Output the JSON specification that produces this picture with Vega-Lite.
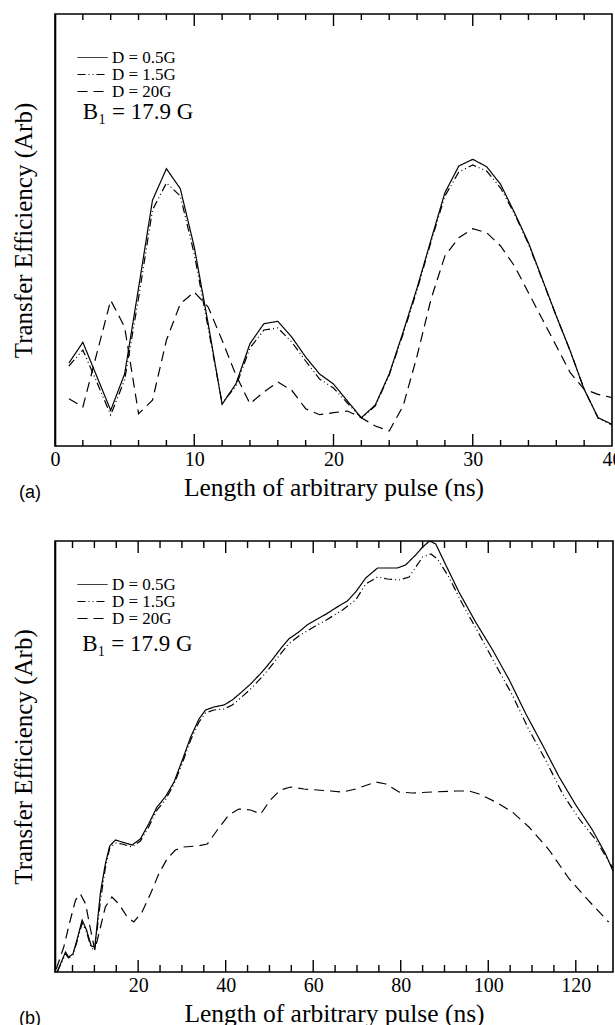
{
  "$schema": "https://vega.github.io/schema/vega-lite/v6.json",
  "padding": {"left": 10, "top": 10, "right": 2, "bottom": 0},
  "autosize": {"type": "pad"},
  "background": "white",
  "spacing": 34,
  "config": {
    "font": "Liberation Serif",
    "view": {"stroke": "black", "strokeWidth": 1.6},
    "axis": {"domain": false, "grid": false, "labelFont": "Liberation Serif", "titleFont": "Liberation Serif", "labelColor": "black", "titleColor": "black", "titleFontWeight": "normal"},
    "legend": {"labelFont": "Liberation Serif", "labelColor": "black"},
    "title": {"font": "Liberation Sans", "color": "black", "fontWeight": "normal"}
  },
  "resolve": {"scale": {"strokeDash": "independent"}, "legend": {"strokeDash": "independent"}},
  "vconcat": [
    {
      "width": 557,
      "height": 432,
      "title": {"text": "(a)", "orient": "bottom", "anchor": "start", "frame": "group", "dx": -36, "offset": -17, "fontSize": 18},
      "layer": [
        {
          "data": {"values": [{"tick": 10}, {"tick": 20}, {"tick": 30}]},
          "mark": {"type": "point", "shape": "M0,0L0,-1", "size": 576, "filled": false, "color": "black", "strokeWidth": 1.4, "opacity": 1},
          "encoding": {
            "x": {"field": "tick", "type": "quantitative", "scale": {"domain": [0, 40], "nice": false, "zero": false},
              "axis": {"orient": "bottom", "title": "Length of arbitrary pulse (ns)", "values": [0,10,20,30,40], "ticks": false, "labelFontSize": 20, "labelPadding": 3, "labelFlush": false, "titleFontSize": 25.5, "titlePadding": 6}},
            "y": {"datum": 0, "type": "quantitative", "scale": {"domain": [0, 432], "nice": false},
              "axis": {"title": "Transfer Efficiency (Arb)", "labels": false, "ticks": false, "domain": true, "domainColor": "black", "domainWidth": 1.6, "titleFontSize": 25, "titlePadding": 19}}
          }
        },
        {
          "data": {"values": [{"tick": 2}, {"tick": 4}, {"tick": 6}, {"tick": 8}, {"tick": 12}, {"tick": 14}, {"tick": 16}, {"tick": 18}, {"tick": 22}, {"tick": 24}, {"tick": 26}, {"tick": 28}, {"tick": 32}, {"tick": 34}, {"tick": 36}, {"tick": 38}]},
          "mark": {"type": "point", "shape": "M0,0L0,-1", "size": 144, "filled": false, "color": "black", "strokeWidth": 1.4, "opacity": 1},
          "encoding": {
            "x": {"field": "tick", "type": "quantitative", "scale": {"domain": [0, 40], "nice": false, "zero": false},
              "axis": {"orient": "bottom", "title": "Length of arbitrary pulse (ns)", "values": [0,10,20,30,40], "ticks": false, "labelFontSize": 20, "labelPadding": 3, "labelFlush": false, "titleFontSize": 25.5, "titlePadding": 6}},
            "y": {"datum": 0, "type": "quantitative", "scale": {"domain": [0, 432], "nice": false},
              "axis": {"title": "Transfer Efficiency (Arb)", "labels": false, "ticks": false, "domain": true, "domainColor": "black", "domainWidth": 1.6, "titleFontSize": 25, "titlePadding": 19}}
          }
        },
        {
          "data": {"values": [{"tick": 10}, {"tick": 20}, {"tick": 30}]},
          "mark": {"type": "point", "shape": "M0,0L0,1", "size": 576, "filled": false, "color": "black", "strokeWidth": 1.4, "opacity": 1},
          "encoding": {
            "x": {"field": "tick", "type": "quantitative", "scale": {"domain": [0, 40], "nice": false, "zero": false},
              "axis": {"orient": "bottom", "title": "Length of arbitrary pulse (ns)", "values": [0,10,20,30,40], "ticks": false, "labelFontSize": 20, "labelPadding": 3, "labelFlush": false, "titleFontSize": 25.5, "titlePadding": 6}},
            "y": {"datum": 432, "type": "quantitative", "scale": {"domain": [0, 432], "nice": false},
              "axis": {"title": "Transfer Efficiency (Arb)", "labels": false, "ticks": false, "domain": true, "domainColor": "black", "domainWidth": 1.6, "titleFontSize": 25, "titlePadding": 19}}
          }
        },
        {
          "data": {"values": [{"tick": 2}, {"tick": 4}, {"tick": 6}, {"tick": 8}, {"tick": 12}, {"tick": 14}, {"tick": 16}, {"tick": 18}, {"tick": 22}, {"tick": 24}, {"tick": 26}, {"tick": 28}, {"tick": 32}, {"tick": 34}, {"tick": 36}, {"tick": 38}]},
          "mark": {"type": "point", "shape": "M0,0L0,1", "size": 144, "filled": false, "color": "black", "strokeWidth": 1.4, "opacity": 1},
          "encoding": {
            "x": {"field": "tick", "type": "quantitative", "scale": {"domain": [0, 40], "nice": false, "zero": false},
              "axis": {"orient": "bottom", "title": "Length of arbitrary pulse (ns)", "values": [0,10,20,30,40], "ticks": false, "labelFontSize": 20, "labelPadding": 3, "labelFlush": false, "titleFontSize": 25.5, "titlePadding": 6}},
            "y": {"datum": 432, "type": "quantitative", "scale": {"domain": [0, 432], "nice": false},
              "axis": {"title": "Transfer Efficiency (Arb)", "labels": false, "ticks": false, "domain": true, "domainColor": "black", "domainWidth": 1.6, "titleFontSize": 25, "titlePadding": 19}}
          }
        },
        {
          "data": {"values": [
            {"s":"D = 0.5G","t":1,"v":83},{"s":"D = 0.5G","t":2,"v":103.7},{"s":"D = 0.5G","t":3,"v":69.7},{"s":"D = 0.5G","t":4,"v":35.7},{"s":"D = 0.5G","t":5,"v":72},{"s":"D = 0.5G","t":6,"v":158},{"s":"D = 0.5G","t":7,"v":245.7},{"s":"D = 0.5G","t":8,"v":277.3},{"s":"D = 0.5G","t":9,"v":257.3},{"s":"D = 0.5G","t":10,"v":199},
            {"s":"D = 0.5G","t":11,"v":122.3},{"s":"D = 0.5G","t":12,"v":41.7},{"s":"D = 0.5G","t":13,"v":62.3},{"s":"D = 0.5G","t":14,"v":102.3},{"s":"D = 0.5G","t":15,"v":122.3},{"s":"D = 0.5G","t":16,"v":124.7},{"s":"D = 0.5G","t":17,"v":109},{"s":"D = 0.5G","t":18,"v":89},{"s":"D = 0.5G","t":19,"v":72},{"s":"D = 0.5G","t":20,"v":62},
            {"s":"D = 0.5G","t":21,"v":45},{"s":"D = 0.5G","t":22,"v":28.3},{"s":"D = 0.5G","t":23,"v":41},{"s":"D = 0.5G","t":24,"v":72},{"s":"D = 0.5G","t":25,"v":114},{"s":"D = 0.5G","t":26,"v":158},{"s":"D = 0.5G","t":27,"v":206},{"s":"D = 0.5G","t":28,"v":253.3},{"s":"D = 0.5G","t":29,"v":280},{"s":"D = 0.5G","t":30,"v":286.7},
            {"s":"D = 0.5G","t":31,"v":279.3},{"s":"D = 0.5G","t":32,"v":261.7},{"s":"D = 0.5G","t":33,"v":233.3},{"s":"D = 0.5G","t":34,"v":203.3},{"s":"D = 0.5G","t":35,"v":166.7},{"s":"D = 0.5G","t":36,"v":130},{"s":"D = 0.5G","t":37,"v":95},{"s":"D = 0.5G","t":38,"v":56.7},{"s":"D = 0.5G","t":39,"v":28.3},{"s":"D = 0.5G","t":40,"v":21.7},
            {"s":"D = 1.5G","t":1,"v":80},{"s":"D = 1.5G","t":2,"v":96},{"s":"D = 1.5G","t":3,"v":64},{"s":"D = 1.5G","t":4,"v":31},{"s":"D = 1.5G","t":5,"v":66},{"s":"D = 1.5G","t":6,"v":148},{"s":"D = 1.5G","t":7,"v":236},{"s":"D = 1.5G","t":8,"v":263},{"s":"D = 1.5G","t":9,"v":250},{"s":"D = 1.5G","t":10,"v":192},
            {"s":"D = 1.5G","t":11,"v":118},{"s":"D = 1.5G","t":12,"v":43},{"s":"D = 1.5G","t":13,"v":60},{"s":"D = 1.5G","t":14,"v":98},{"s":"D = 1.5G","t":15,"v":116},{"s":"D = 1.5G","t":16,"v":118},{"s":"D = 1.5G","t":17,"v":104},{"s":"D = 1.5G","t":18,"v":85},{"s":"D = 1.5G","t":19,"v":67},{"s":"D = 1.5G","t":20,"v":58},
            {"s":"D = 1.5G","t":21,"v":43},{"s":"D = 1.5G","t":22,"v":28},{"s":"D = 1.5G","t":23,"v":40},{"s":"D = 1.5G","t":24,"v":71},{"s":"D = 1.5G","t":25,"v":112},{"s":"D = 1.5G","t":26,"v":156},{"s":"D = 1.5G","t":27,"v":204},{"s":"D = 1.5G","t":28,"v":250},{"s":"D = 1.5G","t":29,"v":274},{"s":"D = 1.5G","t":30,"v":281},
            {"s":"D = 1.5G","t":31,"v":275},{"s":"D = 1.5G","t":32,"v":258},{"s":"D = 1.5G","t":33,"v":232},{"s":"D = 1.5G","t":34,"v":202},{"s":"D = 1.5G","t":35,"v":166},{"s":"D = 1.5G","t":36,"v":130},{"s":"D = 1.5G","t":37,"v":95},{"s":"D = 1.5G","t":38,"v":57},{"s":"D = 1.5G","t":39,"v":28},{"s":"D = 1.5G","t":40,"v":21},
            {"s":"D = 20G","t":1,"v":47.3},{"s":"D = 20G","t":2,"v":39},{"s":"D = 20G","t":3,"v":92.3},{"s":"D = 20G","t":4,"v":145.7},{"s":"D = 20G","t":5,"v":119},{"s":"D = 20G","t":6,"v":32.3},{"s":"D = 20G","t":7,"v":45.7},{"s":"D = 20G","t":8,"v":105.7},{"s":"D = 20G","t":9,"v":142.3},{"s":"D = 20G","t":10,"v":154},
            {"s":"D = 20G","t":11,"v":139},{"s":"D = 20G","t":12,"v":105.7},{"s":"D = 20G","t":13,"v":70.7},{"s":"D = 20G","t":14,"v":42.3},{"s":"D = 20G","t":15,"v":54},{"s":"D = 20G","t":16,"v":64},{"s":"D = 20G","t":17,"v":55.7},{"s":"D = 20G","t":18,"v":37.3},{"s":"D = 20G","t":19,"v":31.3},{"s":"D = 20G","t":20,"v":33.3},
            {"s":"D = 20G","t":21,"v":35},{"s":"D = 20G","t":22,"v":28.3},{"s":"D = 20G","t":23,"v":20},{"s":"D = 20G","t":24,"v":15},{"s":"D = 20G","t":25,"v":40},{"s":"D = 20G","t":26,"v":90},{"s":"D = 20G","t":27,"v":146.7},{"s":"D = 20G","t":28,"v":190},{"s":"D = 20G","t":29,"v":208.3},{"s":"D = 20G","t":30,"v":217.3},
            {"s":"D = 20G","t":31,"v":213.3},{"s":"D = 20G","t":32,"v":200},{"s":"D = 20G","t":33,"v":180},{"s":"D = 20G","t":34,"v":153.3},{"s":"D = 20G","t":35,"v":126.7},{"s":"D = 20G","t":36,"v":100},{"s":"D = 20G","t":37,"v":73.3},{"s":"D = 20G","t":38,"v":56.7},{"s":"D = 20G","t":39,"v":51.7},{"s":"D = 20G","t":40,"v":48.3}
          ]},
          "mark": {"type": "line", "color": "black", "strokeWidth": 1.2},
          "encoding": {
            "x": {"field": "t", "type": "quantitative", "scale": {"domain": [0, 40], "nice": false, "zero": false},
              "axis": {"orient": "bottom", "title": "Length of arbitrary pulse (ns)", "values": [0,10,20,30,40], "ticks": false, "labelFontSize": 20, "labelPadding": 3, "labelFlush": false, "titleFontSize": 25.5, "titlePadding": 6}},
            "y": {"field": "v", "type": "quantitative", "scale": {"domain": [0, 432], "nice": false},
              "axis": {"title": "Transfer Efficiency (Arb)", "labels": false, "ticks": false, "domain": true, "domainColor": "black", "domainWidth": 1.6, "titleFontSize": 25, "titlePadding": 19}},
            "strokeDash": {"field": "s", "type": "nominal",
              "scale": {"domain": ["D = 0.5G", "D = 1.5G", "D = 20G"], "range": [[1, 0], [8, 3, 1, 3, 1, 3], [10, 6]]},
              "legend": {"orient": "none", "legendX": 29, "legendY": 35, "title": null, "symbolType": "M-2,0L2,0", "symbolSize": 225, "symbolStrokeWidth": 1, "symbolStrokeColor": "black", "labelFontSize": 17, "labelOffset": 11, "rowPadding": -2.5, "padding": 0}}
          }
        },
        {
          "data": {"values": [{"note": "B₁ = 17.9 G"}]},
          "mark": {"type": "text", "align": "left", "baseline": "alphabetic", "fontSize": 23, "color": "black"},
          "encoding": {
            "text": {"field": "note"},
            "x": {"datum": 2, "type": "quantitative", "scale": {"domain": [0, 40], "nice": false, "zero": false},
              "axis": {"orient": "bottom", "title": "Length of arbitrary pulse (ns)", "values": [0,10,20,30,40], "ticks": false, "labelFontSize": 20, "labelPadding": 3, "labelFlush": false, "titleFontSize": 25.5, "titlePadding": 6}},
            "y": {"datum": 327, "type": "quantitative", "scale": {"domain": [0, 432], "nice": false},
              "axis": {"title": "Transfer Efficiency (Arb)", "labels": false, "ticks": false, "domain": true, "domainColor": "black", "domainWidth": 1.6, "titleFontSize": 25, "titlePadding": 19}}
          }
        }
      ]
    },
    {
      "width": 558,
      "height": 431,
      "title": {"text": "(b)", "orient": "bottom", "anchor": "start", "frame": "group", "dx": -36, "offset": -17, "fontSize": 18},
      "layer": [
        {
          "data": {"values": [{"tick": 20}, {"tick": 40}, {"tick": 60}, {"tick": 80}, {"tick": 100}, {"tick": 120}]},
          "mark": {"type": "point", "shape": "M0,0L0,-1", "size": 576, "filled": false, "color": "black", "strokeWidth": 1.4, "opacity": 1},
          "encoding": {
            "x": {"field": "tick", "type": "quantitative", "scale": {"domain": [1, 128.5], "nice": false, "zero": false},
              "axis": {"orient": "bottom", "title": "Length of arbitrary pulse (ns)", "values": [20,40,60,80,100,120], "ticks": false, "labelFontSize": 20, "labelPadding": 3, "labelFlush": false, "titleFontSize": 25.5, "titlePadding": 6}},
            "y": {"datum": 0, "type": "quantitative", "scale": {"domain": [0, 431], "nice": false},
              "axis": {"title": "Transfer Efficiency (Arb)", "labels": false, "ticks": false, "domain": true, "domainColor": "black", "domainWidth": 1.6, "titleFontSize": 25, "titlePadding": 19}}
          }
        },
        {
          "data": {"values": [{"tick": 5}, {"tick": 10}, {"tick": 15}, {"tick": 25}, {"tick": 30}, {"tick": 35}, {"tick": 45}, {"tick": 50}, {"tick": 55}, {"tick": 65}, {"tick": 70}, {"tick": 75}, {"tick": 85}, {"tick": 90}, {"tick": 95}, {"tick": 105}, {"tick": 110}, {"tick": 115}, {"tick": 125}]},
          "mark": {"type": "point", "shape": "M0,0L0,-1", "size": 196, "filled": false, "color": "black", "strokeWidth": 1.4, "opacity": 1},
          "encoding": {
            "x": {"field": "tick", "type": "quantitative", "scale": {"domain": [1, 128.5], "nice": false, "zero": false},
              "axis": {"orient": "bottom", "title": "Length of arbitrary pulse (ns)", "values": [20,40,60,80,100,120], "ticks": false, "labelFontSize": 20, "labelPadding": 3, "labelFlush": false, "titleFontSize": 25.5, "titlePadding": 6}},
            "y": {"datum": 0, "type": "quantitative", "scale": {"domain": [0, 431], "nice": false},
              "axis": {"title": "Transfer Efficiency (Arb)", "labels": false, "ticks": false, "domain": true, "domainColor": "black", "domainWidth": 1.6, "titleFontSize": 25, "titlePadding": 19}}
          }
        },
        {
          "data": {"values": [{"tick": 20}, {"tick": 40}, {"tick": 60}, {"tick": 80}, {"tick": 100}, {"tick": 120}]},
          "mark": {"type": "point", "shape": "M0,0L0,1", "size": 576, "filled": false, "color": "black", "strokeWidth": 1.4, "opacity": 1},
          "encoding": {
            "x": {"field": "tick", "type": "quantitative", "scale": {"domain": [1, 128.5], "nice": false, "zero": false},
              "axis": {"orient": "bottom", "title": "Length of arbitrary pulse (ns)", "values": [20,40,60,80,100,120], "ticks": false, "labelFontSize": 20, "labelPadding": 3, "labelFlush": false, "titleFontSize": 25.5, "titlePadding": 6}},
            "y": {"datum": 431, "type": "quantitative", "scale": {"domain": [0, 431], "nice": false},
              "axis": {"title": "Transfer Efficiency (Arb)", "labels": false, "ticks": false, "domain": true, "domainColor": "black", "domainWidth": 1.6, "titleFontSize": 25, "titlePadding": 19}}
          }
        },
        {
          "data": {"values": [{"tick": 5}, {"tick": 10}, {"tick": 15}, {"tick": 25}, {"tick": 30}, {"tick": 35}, {"tick": 45}, {"tick": 50}, {"tick": 55}, {"tick": 65}, {"tick": 70}, {"tick": 75}, {"tick": 85}, {"tick": 90}, {"tick": 95}, {"tick": 105}, {"tick": 110}, {"tick": 115}, {"tick": 125}]},
          "mark": {"type": "point", "shape": "M0,0L0,1", "size": 196, "filled": false, "color": "black", "strokeWidth": 1.4, "opacity": 1},
          "encoding": {
            "x": {"field": "tick", "type": "quantitative", "scale": {"domain": [1, 128.5], "nice": false, "zero": false},
              "axis": {"orient": "bottom", "title": "Length of arbitrary pulse (ns)", "values": [20,40,60,80,100,120], "ticks": false, "labelFontSize": 20, "labelPadding": 3, "labelFlush": false, "titleFontSize": 25.5, "titlePadding": 6}},
            "y": {"datum": 431, "type": "quantitative", "scale": {"domain": [0, 431], "nice": false},
              "axis": {"title": "Transfer Efficiency (Arb)", "labels": false, "ticks": false, "domain": true, "domainColor": "black", "domainWidth": 1.6, "titleFontSize": 25, "titlePadding": 19}}
          }
        },
        {
          "data": {"values": [
            {"s":"D = 0.5G","t":1.5,"v":0},{"s":"D = 0.5G","t":3.4,"v":20},{"s":"D = 0.5G","t":4.1,"v":15},{"s":"D = 0.5G","t":5.1,"v":18},{"s":"D = 0.5G","t":6.2,"v":35},{"s":"D = 0.5G","t":7.2,"v":52},{"s":"D = 0.5G","t":8.2,"v":42},{"s":"D = 0.5G","t":9.3,"v":26},{"s":"D = 0.5G","t":10.1,"v":25},{"s":"D = 0.5G","t":11.4,"v":80},
            {"s":"D = 0.5G","t":12.5,"v":108},{"s":"D = 0.5G","t":13.5,"v":126},{"s":"D = 0.5G","t":14.8,"v":132},{"s":"D = 0.5G","t":16.3,"v":130},{"s":"D = 0.5G","t":18.6,"v":127},{"s":"D = 0.5G","t":20.5,"v":133},{"s":"D = 0.5G","t":22.4,"v":148},{"s":"D = 0.5G","t":24.3,"v":165},{"s":"D = 0.5G","t":26.2,"v":175},{"s":"D = 0.5G","t":28.2,"v":190},
            {"s":"D = 0.5G","t":30.1,"v":212},{"s":"D = 0.5G","t":32,"v":235},{"s":"D = 0.5G","t":33.9,"v":253},{"s":"D = 0.5G","t":35.4,"v":262},{"s":"D = 0.5G","t":37.3,"v":265},{"s":"D = 0.5G","t":39.6,"v":267},{"s":"D = 0.5G","t":41.5,"v":272},{"s":"D = 0.5G","t":43.4,"v":279},{"s":"D = 0.5G","t":45.7,"v":288},{"s":"D = 0.5G","t":48.3,"v":300},
            {"s":"D = 0.5G","t":50.6,"v":312},{"s":"D = 0.5G","t":52.5,"v":323},{"s":"D = 0.5G","t":54.4,"v":333},{"s":"D = 0.5G","t":56.7,"v":340},{"s":"D = 0.5G","t":58.6,"v":347},{"s":"D = 0.5G","t":60.9,"v":353},{"s":"D = 0.5G","t":63,"v":358},{"s":"D = 0.5G","t":65.1,"v":364},{"s":"D = 0.5G","t":67.8,"v":371},{"s":"D = 0.5G","t":69.7,"v":380},
            {"s":"D = 0.5G","t":72,"v":394},{"s":"D = 0.5G","t":74.7,"v":404},{"s":"D = 0.5G","t":77,"v":404},{"s":"D = 0.5G","t":79.2,"v":404},{"s":"D = 0.5G","t":81.1,"v":407},{"s":"D = 0.5G","t":83.4,"v":417},{"s":"D = 0.5G","t":85,"v":425},{"s":"D = 0.5G","t":86.6,"v":431},{"s":"D = 0.5G","t":88,"v":428},{"s":"D = 0.5G","t":90.3,"v":407},
            {"s":"D = 0.5G","t":93.3,"v":380},{"s":"D = 0.5G","t":97.1,"v":350},{"s":"D = 0.5G","t":101,"v":322},{"s":"D = 0.5G","t":104.8,"v":292},{"s":"D = 0.5G","t":108.6,"v":258},{"s":"D = 0.5G","t":112.4,"v":227},{"s":"D = 0.5G","t":116.2,"v":195},{"s":"D = 0.5G","t":120,"v":167},{"s":"D = 0.5G","t":123.8,"v":142},{"s":"D = 0.5G","t":126.8,"v":118},{"s":"D = 0.5G","t":128.5,"v":101},
            {"s":"D = 1.5G","t":1.5,"v":0},{"s":"D = 1.5G","t":3.4,"v":18},{"s":"D = 1.5G","t":4.1,"v":14},{"s":"D = 1.5G","t":5.1,"v":17},{"s":"D = 1.5G","t":6.2,"v":33},{"s":"D = 1.5G","t":7.2,"v":49},{"s":"D = 1.5G","t":8.2,"v":40},{"s":"D = 1.5G","t":9.3,"v":24},{"s":"D = 1.5G","t":10.1,"v":22},{"s":"D = 1.5G","t":11.4,"v":72},
            {"s":"D = 1.5G","t":12.5,"v":104},{"s":"D = 1.5G","t":13.5,"v":124},{"s":"D = 1.5G","t":14.8,"v":129},{"s":"D = 1.5G","t":16.3,"v":128},{"s":"D = 1.5G","t":18.6,"v":125},{"s":"D = 1.5G","t":20.5,"v":131},{"s":"D = 1.5G","t":22.4,"v":145},{"s":"D = 1.5G","t":24.3,"v":162},{"s":"D = 1.5G","t":26.2,"v":172},{"s":"D = 1.5G","t":28.2,"v":188},
            {"s":"D = 1.5G","t":30.1,"v":209},{"s":"D = 1.5G","t":32,"v":232},{"s":"D = 1.5G","t":33.9,"v":250},{"s":"D = 1.5G","t":35.4,"v":259},{"s":"D = 1.5G","t":37.3,"v":262},{"s":"D = 1.5G","t":39.6,"v":263},{"s":"D = 1.5G","t":41.5,"v":267},{"s":"D = 1.5G","t":43.4,"v":274},{"s":"D = 1.5G","t":45.7,"v":283},{"s":"D = 1.5G","t":48.3,"v":295},
            {"s":"D = 1.5G","t":50.6,"v":307},{"s":"D = 1.5G","t":52.5,"v":318},{"s":"D = 1.5G","t":54.4,"v":328},{"s":"D = 1.5G","t":56.7,"v":336},{"s":"D = 1.5G","t":58.6,"v":341},{"s":"D = 1.5G","t":60.9,"v":347},{"s":"D = 1.5G","t":63,"v":352},{"s":"D = 1.5G","t":66.7,"v":362},{"s":"D = 1.5G","t":69.7,"v":372},{"s":"D = 1.5G","t":72,"v":388},
            {"s":"D = 1.5G","t":74.7,"v":395},{"s":"D = 1.5G","t":77,"v":393},{"s":"D = 1.5G","t":79.6,"v":392},{"s":"D = 1.5G","t":81.9,"v":395},{"s":"D = 1.5G","t":85,"v":415},{"s":"D = 1.5G","t":86.9,"v":418},{"s":"D = 1.5G","t":88.4,"v":413},{"s":"D = 1.5G","t":91,"v":395},{"s":"D = 1.5G","t":94.1,"v":368},{"s":"D = 1.5G","t":97.9,"v":338},
            {"s":"D = 1.5G","t":101.7,"v":307},{"s":"D = 1.5G","t":105.5,"v":277},{"s":"D = 1.5G","t":109.3,"v":242},{"s":"D = 1.5G","t":113.1,"v":212},{"s":"D = 1.5G","t":117,"v":178},{"s":"D = 1.5G","t":120.8,"v":153},{"s":"D = 1.5G","t":124.6,"v":132},{"s":"D = 1.5G","t":127.6,"v":110},{"s":"D = 1.5G","t":128.5,"v":104},
            {"s":"D = 20G","t":1.3,"v":3},{"s":"D = 20G","t":3,"v":25},{"s":"D = 20G","t":4.5,"v":52},{"s":"D = 20G","t":5.7,"v":72},{"s":"D = 20G","t":6.8,"v":78},{"s":"D = 20G","t":8,"v":68},{"s":"D = 20G","t":9,"v":45},{"s":"D = 20G","t":10.1,"v":22},{"s":"D = 20G","t":11.4,"v":45},{"s":"D = 20G","t":12.5,"v":65},
            {"s":"D = 20G","t":14,"v":75},{"s":"D = 20G","t":15.6,"v":68},{"s":"D = 20G","t":17.5,"v":55},{"s":"D = 20G","t":19,"v":50},{"s":"D = 20G","t":20.9,"v":60},{"s":"D = 20G","t":22.8,"v":78},{"s":"D = 20G","t":24.7,"v":98},{"s":"D = 20G","t":26.6,"v":113},{"s":"D = 20G","t":28.5,"v":122},{"s":"D = 20G","t":30.4,"v":125},
            {"s":"D = 20G","t":33.5,"v":126},{"s":"D = 20G","t":35.8,"v":128},{"s":"D = 20G","t":38.1,"v":142},{"s":"D = 20G","t":40.7,"v":157},{"s":"D = 20G","t":43,"v":163},{"s":"D = 20G","t":45.7,"v":162},{"s":"D = 20G","t":48,"v":158},{"s":"D = 20G","t":50.2,"v":172},{"s":"D = 20G","t":52.5,"v":182},{"s":"D = 20G","t":54.8,"v":185},
            {"s":"D = 20G","t":57.9,"v":183},{"s":"D = 20G","t":60.9,"v":182},{"s":"D = 20G","t":64,"v":181},{"s":"D = 20G","t":66.7,"v":180},{"s":"D = 20G","t":69.7,"v":183},{"s":"D = 20G","t":74.3,"v":190},{"s":"D = 20G","t":76.6,"v":188},{"s":"D = 20G","t":79.6,"v":180},{"s":"D = 20G","t":82.7,"v":179},{"s":"D = 20G","t":87.2,"v":180},
            {"s":"D = 20G","t":92.6,"v":181},{"s":"D = 20G","t":95.6,"v":181},{"s":"D = 20G","t":97.9,"v":178},{"s":"D = 20G","t":101.7,"v":170},{"s":"D = 20G","t":105.5,"v":160},{"s":"D = 20G","t":109.3,"v":145},{"s":"D = 20G","t":113.9,"v":122},{"s":"D = 20G","t":118.5,"v":93},{"s":"D = 20G","t":123,"v":71},{"s":"D = 20G","t":127.5,"v":50}
          ]},
          "mark": {"type": "line", "color": "black", "strokeWidth": 1.2},
          "encoding": {
            "x": {"field": "t", "type": "quantitative", "scale": {"domain": [1, 128.5], "nice": false, "zero": false},
              "axis": {"orient": "bottom", "title": "Length of arbitrary pulse (ns)", "values": [20,40,60,80,100,120], "ticks": false, "labelFontSize": 20, "labelPadding": 3, "labelFlush": false, "titleFontSize": 25.5, "titlePadding": 6}},
            "y": {"field": "v", "type": "quantitative", "scale": {"domain": [0, 431], "nice": false},
              "axis": {"title": "Transfer Efficiency (Arb)", "labels": false, "ticks": false, "domain": true, "domainColor": "black", "domainWidth": 1.6, "titleFontSize": 25, "titlePadding": 19}},
            "strokeDash": {"field": "s", "type": "nominal",
              "scale": {"domain": ["D = 0.5G", "D = 1.5G", "D = 20G"], "range": [[1, 0], [8, 3, 1, 3, 1, 3], [10, 6]]},
              "legend": {"orient": "none", "legendX": 29, "legendY": 35, "title": null, "symbolType": "M-2,0L2,0", "symbolSize": 225, "symbolStrokeWidth": 1, "symbolStrokeColor": "black", "labelFontSize": 17, "labelOffset": 11, "rowPadding": -1.5, "padding": 0}}
          }
        },
        {
          "data": {"values": [{"note": "B₁ = 17.9 G"}]},
          "mark": {"type": "text", "align": "left", "baseline": "alphabetic", "fontSize": 23, "color": "black"},
          "encoding": {
            "text": {"field": "note"},
            "x": {"datum": 7.2, "type": "quantitative", "scale": {"domain": [1, 128.5], "nice": false, "zero": false},
              "axis": {"orient": "bottom", "title": "Length of arbitrary pulse (ns)", "values": [20,40,60,80,100,120], "ticks": false, "labelFontSize": 20, "labelPadding": 3, "labelFlush": false, "titleFontSize": 25.5, "titlePadding": 6}},
            "y": {"datum": 321, "type": "quantitative", "scale": {"domain": [0, 431], "nice": false},
              "axis": {"title": "Transfer Efficiency (Arb)", "labels": false, "ticks": false, "domain": true, "domainColor": "black", "domainWidth": 1.6, "titleFontSize": 25, "titlePadding": 19}}
          }
        }
      ]
    }
  ]
}
